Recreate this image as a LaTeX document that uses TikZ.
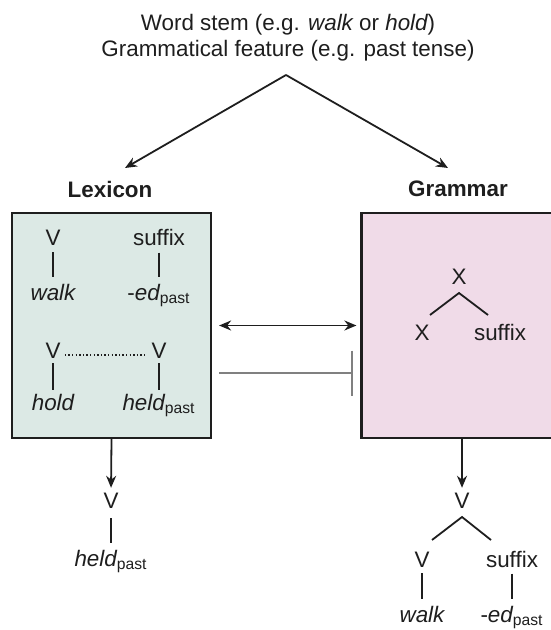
\documentclass[tikz,border=0pt]{standalone}
\usepackage{fontspec}
\setmainfont{Liberation Sans}
\usetikzlibrary{arrows.meta}
\usetikzlibrary{positioning}

\definecolor{lexfill}{HTML}{DCE9E5}
\definecolor{gramfill}{HTML}{F0DBE8}
\definecolor{ink}{HTML}{1E1E1E}

\begin{document}
\begin{tikzpicture}[x=0.5pt, y=-0.5pt,
    every node/.style={font=\fontsize{11.2}{12.5}\selectfont, text=ink, inner sep=0pt},
    lbl/.style={anchor=base},
    panel/.style={draw=ink, line width=1.1pt, minimum width=99.5pt, minimum height=112.5pt},
    link/.style={draw=ink, line width=0.9pt, shorten <=3pt, shorten >=3pt},
    arr/.style={draw=ink, line width=0.9pt, -{Stealth[length=6pt, width=5pt]}}]
    \useasboundingbox (0,0) rectangle (550,630);

    % input
    \node[lbl] (stem) at (288,31) {Word stem (e.g. {\itshape walk} or {\itshape hold})};
    \node[lbl] (feat) at (288,57) {Grammatical feature (e.g. past tense)};
    \coordinate (split) at (286,75);
    \coordinate (tolex) at (125,168);
    \coordinate (togram) at (448,168);
    \draw[arr] (split) -- (tolex);
    \draw[arr] (split) -- (togram);

    % the two routes
    \node[lbl, font=\fontsize{11.2}{12.5}\selectfont\bfseries] (lexhead) at (110,198) {Lexicon};
    \node[lbl, font=\fontsize{11.2}{12.5}\selectfont\bfseries] (gramhead) at (458,197) {Grammar};
    \node[panel, fill=lexfill] (lexbox) at (111.5,325.5) {};
    \node[panel, fill=gramfill] (grambox) at (461,325.5) {};

    % lexicon entries
    \node[lbl] (v1) at (53,246) {V};
    \node[lbl] (suf1) at (159,246) {suffix};
    \node[lbl] (walk1) at (53,300) {\itshape walk};
    \node[lbl] (ed1) at (159,300) {-{\itshape ed}\textsubscript{past}};
    \node[lbl] (v2) at (53,358) {V};
    \node[lbl] (v3) at (159,358) {V};
    \node[lbl] (hold) at (53,410) {\itshape hold};
    \node[lbl] (held1) at (159,410) {{\itshape held}\textsubscript{past}};
    \draw[link] (v1.south) -- (walk1.north);
    \draw[link] (suf1.south) -- (ed1.north);
    \draw[link, shorten <=2.5pt, shorten >=1.8pt] (v2.south) -- (hold.north);
    \draw[link, shorten <=2.5pt, shorten >=1.8pt] (v3.south) -- (held1.north);
    \draw[ink, line width=0.8pt, dash pattern=on 0.7pt off 1.1pt, shorten <=2pt, shorten >=2pt]
        ([yshift=1.5pt]v2.base east) -- ([yshift=1.5pt]v3.base west);

    % grammar rule
    \node[lbl] (x1) at (459,285) {X};
    \node[lbl] (x2) at (422,340) {X};
    \node[lbl] (suf2) at (500,340) {suffix};
    \coordinate (xtop) at (459,293);
    \coordinate (xl) at (430,315);
    \coordinate (xr) at (488,315);
    \draw[ink, line width=0.9pt] (xl) -- (xtop) -- (xr);

    % between the routes
    \draw[draw=ink, line width=0.9pt, {Stealth[length=6pt, width=5pt]}-{Stealth[length=6pt, width=5pt]},
        shorten <=3.5pt, shorten >=2pt] (lexbox) -- (grambox);
    \coordinate (block) at (0,373);
    \draw[draw=gray, line width=1pt, -{Bar[width=22.5pt]}, shorten <=3.5pt, shorten >=3.5pt]
        (lexbox.east |- block) -- (grambox.west |- block);

    % outputs
    \node[lbl] (v4) at (111,508) {V};
    \node[lbl] (held2) at (111,566) {{\itshape held}\textsubscript{past}};
    \draw[arr, shorten >=2.2pt] (lexbox.south) -- (v4.north);
    \draw[link, shorten <=5pt, shorten >=3.3pt] (v4.south) -- (held2.north);

    \node[lbl] (v5) at (462,508) {V};
    \node[lbl] (v6) at (422,567) {V};
    \node[lbl] (suf3) at (512,567) {suffix};
    \node[lbl] (walk2) at (422,622) {\itshape walk};
    \node[lbl] (ed2) at (512,622) {-{\itshape ed}\textsubscript{past}};
    \draw[arr, shorten >=2.2pt] (grambox.south -| v5) -- (v5.north);
    \coordinate (vtop) at (462,517);
    \coordinate (vl) at (432,540);
    \coordinate (vr) at (491,540);
    \draw[ink, line width=0.9pt] (vl) -- (vtop) -- (vr);
    \draw[link] (v6.south) -- (walk2.north);
    \draw[link] (suf3.south) -- (ed2.north);
\end{tikzpicture}
\end{document}
